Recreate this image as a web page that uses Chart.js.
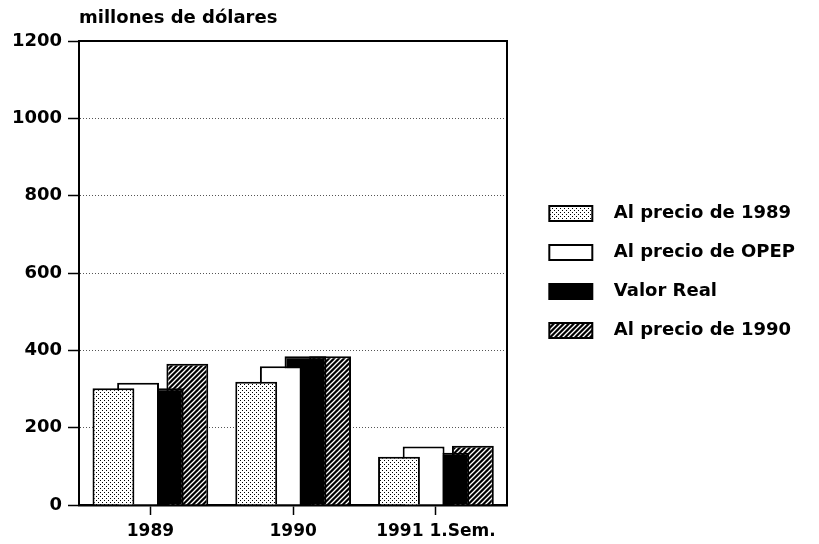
<!DOCTYPE html>
<html>
<head>
<meta charset="utf-8">
<title>millones de dólares</title>
<script src="https://cdn.jsdelivr.net/npm/chart.js@4.4.1/dist/chart.umd.min.js"></script>
<style>
  html, body { margin: 0; padding: 0; background: #fff; }
  canvas { display: block; }
</style>
</head>
<body>
<canvas id="chart" width="819" height="544"></canvas>
<script>
// ================= DATA =================
const categories = ["1989", "1990", "1991 1.Sem."];
const seriesNames = ["Al precio de 1989", "Al precio de OPEP", "Valor Real", "Al precio de 1990"];
const precio1989 = [302, 319, 125];
const precioOPEP = [316, 359, 151];
const valorReal = [302, 385, 135];
const precio1990 = [365, 385, 153];
const yTicks = [0, 200, 400, 600, 800, 1000, 1200];

const FONT = "'DejaVu Sans', 'Liberation Sans', sans-serif";

// ================= PATTERNS =================
function dotPattern() {
  const c = document.createElement("canvas");
  c.width = 4; c.height = 4;
  const g = c.getContext("2d");
  g.fillStyle = "#fff";
  g.fillRect(0, 0, 4, 4);
  g.fillStyle = "#000";
  g.fillRect(0, 0, 1, 1);
  g.fillRect(2, 2, 1, 1);
  return g.createPattern(c, "repeat");
}

function hatchPattern() {
  const s = 5;
  const c = document.createElement("canvas");
  c.width = s; c.height = s;
  const g = c.getContext("2d");
  g.fillStyle = "#000";
  g.fillRect(0, 0, s, s);
  g.strokeStyle = "#fff";
  g.lineWidth = 1.3;
  g.beginPath();
  g.moveTo(0, s); g.lineTo(s, 0);
  g.moveTo(-1, 1); g.lineTo(1, -1);
  g.moveTo(s - 1, s + 1); g.lineTo(s + 1, s - 1);
  g.stroke();
  return g.createPattern(c, "repeat");
}

const fills = [dotPattern(), "#fff", "#000", hatchPattern()];
const values = [precio1989, precioOPEP, valorReal, precio1990];

// ================= CHART =================
new Chart(document.getElementById("chart"), {
  type: "bar",
  data: {
    labels: categories,
    datasets: seriesNames.map((name, i) => ({
      label: name,
      data: values[i],
      backgroundColor: fills[i],
      borderColor: "#000",
      borderWidth: 2,
      categoryPercentage: 0.69,
      barPercentage: 1.7
    }))
  },
  options: {
    responsive: false,
    animation: false,
    layout: { padding: { left: 0, right: 14, top: 0, bottom: 0 } },
    plugins: {
      tooltip: { enabled: false },
      title: {
        display: true,
        text: "millones de dólares",
        align: "start",
        fullSize: false,
        color: "#000",
        font: { family: FONT, size: 18, weight: "bold" },
        padding: { top: 8, bottom: 11.4 }
      },
      legend: {
        position: "right",
        align: "center",
        maxWidth: 320,
        labels: {
          color: "#000",
          font: { family: FONT, size: 18, weight: "bold" },
          boxWidth: 43,
          boxHeight: 15,
          padding: 21,
          generateLabels: chart =>
            Chart.defaults.plugins.legend.labels.generateLabels(chart)
              .map(l => ({ ...l, text: "  " + l.text }))
        }
      }
    },
    scales: {
      x: {
        offset: true,
        grid: {
          offset: false,
          drawOnChartArea: false,
          drawTicks: true,
          tickLength: 10,
          tickColor: "#000",
          tickWidth: 1.5
        },
        border: { color: "#000", width: 2.5 },
        ticks: {
          color: "#000",
          padding: 6,
          maxRotation: 0,
          font: { family: FONT, size: 17, weight: "bold" }
        },
        afterFit: scale => { scale.height = 39; }
      },
      x2: {
        position: "top",
        grid: { display: false },
        ticks: { display: false },
        border: { color: "#000", width: 2 },
        afterFit: scale => { scale.height = 0; }
      },
      y: {
        min: 0,
        max: 1200,
        afterBuildTicks: scale => { scale.ticks = yTicks.map(v => ({ value: v })); },
        grid: {
          color: "#555",
          lineWidth: 1,
          tickLength: 11,
          tickColor: "#000",
          tickWidth: 1.5
        },
        border: { color: "#000", width: 2, dash: [1, 2] },
        ticks: {
          color: "#000",
          padding: 6,
          font: { family: FONT, size: 18, weight: "bold" },
          callback: v => String(v)
        },
        afterFit: scale => { scale.width = 79; }
      },
      y2: {
        position: "right",
        min: 0,
        max: 1200,
        grid: { display: false },
        ticks: { display: false },
        border: { color: "#000", width: 2 },
        afterFit: scale => { scale.width = 21; }
      }
    }
  }
});
</script>
</body>
</html>
